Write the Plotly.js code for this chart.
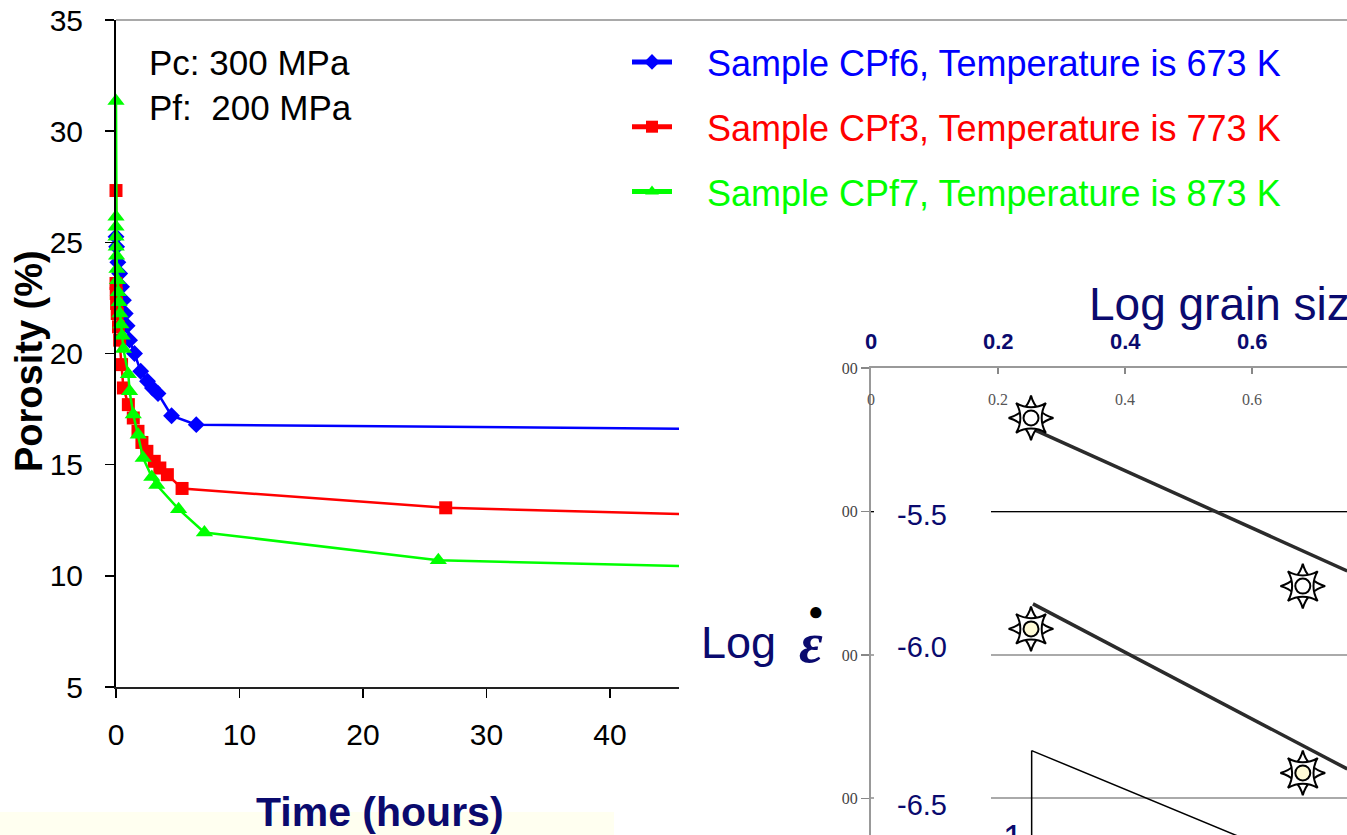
<!DOCTYPE html>
<html>
<head>
<meta charset="utf-8">
<script src="https://cdn.plot.ly/plotly-3.0.1.min.js"></script>
<style>html,body{margin:0;padding:0;background:#fff;}#chart{width:1347px;height:835px;}</style>
</head>
<body>
<div id="chart"></div>
<script>
// ---- Main chart data: porosity (%) vs time (hours) ----
const timeTicks = [0, 10, 20, 30, 40];
const porosityTicks = [5, 10, 15, 20, 25, 30, 35];

const cpf6Time = [0, 0.05, 0.15, 0.3, 0.45, 0.6, 0.75, 0.9, 1.1, 1.5, 2.0, 2.55, 2.95, 3.4, 4.5, 6.5, 72];
const cpf6Porosity = [25.25, 24.8, 24.1, 23.6, 23.0, 22.4, 21.8, 21.25, 20.6, 20.0, 19.2, 18.75, 18.45, 18.2, 17.2, 16.8, 16.5];

const cpf3Time = [0, 0, 0.02, 0.05, 0.1, 0.2, 0.3, 0.45, 0.6, 1.0, 1.4, 1.78, 2.1, 2.5, 3.1, 3.55, 4.16, 5.35, 26.7, 72];
const cpf3Porosity = [27.33, 23.15, 22.7, 22.25, 21.8, 21.2, 20.6, 19.5, 18.45, 17.7, 17.1, 16.5, 16.0, 15.6, 15.15, 14.85, 14.55, 13.93, 13.06, 12.4];

const cpf7Time = [0, 0, 0, 0, 0.02, 0.05, 0.08, 0.12, 0.18, 0.25, 0.32, 0.4, 0.5, 0.6, 1.0, 1.1, 1.4, 1.8, 2.2, 2.9, 3.3, 5.07, 7.16, 26.1, 72];
const cpf7Porosity = [31.36, 26.15, 25.7, 25.25, 24.8, 24.4, 23.8, 23.3, 22.75, 22.3, 21.8, 21.3, 20.8, 20.2, 19.07, 18.3, 17.26, 16.35, 15.3, 14.45, 14.08, 13.0, 11.95, 10.7, 10.1];

const seriesNames = [
  'Sample CPf6, Temperature is 673 K',
  'Sample CPf3, Temperature is 773 K',
  'Sample CPf7, Temperature is 873 K'
];

// ---- Overlaid chart data: log strain rate vs log grain size ----
const grainTicks = [0, 0.2, 0.4, 0.6];
const grainTickText = ['0', '0.2', '0.4', '0.6'];
const rateTicks = [-5.0, -5.5, -6.0, -6.5];
const rateTickText = ['00', '00', '00', '00'];
const rateLabelText = ['-5.5', '-6.0', '-6.5'];

const sunLogGrain = [0.252, 0.680, 0.252, 0.680];
const sunLogRate = [-5.174, -5.760, -5.909, -6.411];

const fit1LogGrain = [0.255, 0.75];
const fit1LogRate = [-5.213, -5.707];
const fit2LogGrain = [0.255, 0.75];
const fit2LogRate = [-5.822, -6.397];

const slopeTriX = [0.253, 0.253, 0.98, 0.253];
const slopeTriY = [-6.333, -7.0, -7.0, -6.333];

// ---- helpers ----
const W = 1347, H = 835;
const px = x => x / W;
const py = y => 1 - y / H;
const FONT = 'Liberation Sans, Arial, sans-serif';
const SERIF = 'Liberation Serif, Times New Roman, serif';
const NAVY = '#0a0a6e';
const BLUE = '#0000ff', RED = '#ff0000', GREEN = '#00ff00';
const GAP = '\u00a0\u00a0\u00a0';

const data = [
  {
    x: cpf6Time, y: cpf6Porosity, type: 'scatter', mode: 'lines+markers',
    name: GAP + '<span style="color:' + BLUE + '">' + seriesNames[0] + '</span>',
    legendgroup: 'a', cliponaxis: false,
    line: {color: BLUE, width: 2.5},
    marker: {symbol: 'diamond', size: 13, color: BLUE}
  },
  {
    x: cpf3Time, y: cpf3Porosity, type: 'scatter', mode: 'lines+markers',
    name: GAP + '<span style="color:' + RED + '">' + seriesNames[1] + '</span>',
    legendgroup: 'b', cliponaxis: false,
    line: {color: RED, width: 2.5},
    marker: {symbol: 'square', size: 13, color: RED}
  },
  {
    x: cpf7Time, y: cpf7Porosity, type: 'scatter', mode: 'lines+markers',
    name: GAP + '<span style="color:' + GREEN + '">' + seriesNames[2] + '</span>',
    legendgroup: 'c', cliponaxis: false,
    line: {color: GREEN, width: 2.5},
    marker: {symbol: 'triangle-up', size: 15, color: GREEN}
  },
  // overlaid chart
  {
    x: fit1LogGrain, y: fit1LogRate, xaxis: 'x2', yaxis: 'y2', type: 'scatter', mode: 'lines',
    showlegend: false, line: {color: '#2b2b2b', width: 3.5}
  },
  {
    x: fit2LogGrain, y: fit2LogRate, xaxis: 'x2', yaxis: 'y2', type: 'scatter', mode: 'lines',
    showlegend: false, line: {color: '#2b2b2b', width: 3.5}
  },
  {
    x: slopeTriX, y: slopeTriY, xaxis: 'x2', yaxis: 'y2', type: 'scatter', mode: 'lines',
    showlegend: false, line: {color: '#000', width: 1.5}
  },
  {
    x: sunLogGrain, y: sunLogRate, xaxis: 'x2', yaxis: 'y2', type: 'scatter', mode: 'markers',
    showlegend: false, cliponaxis: false,
    marker: {symbol: 'star-diamond', size: 32, color: '#fff', line: {color: '#000', width: 2}}
  },
  {
    x: sunLogGrain, y: sunLogRate, xaxis: 'x2', yaxis: 'y2', type: 'scatter', mode: 'markers',
    showlegend: false, cliponaxis: false,
    marker: {symbol: 'star-diamond', angle: 45, size: 30, color: '#fff', line: {color: '#000', width: 2}}
  },
  {
    x: sunLogGrain, y: sunLogRate, xaxis: 'x2', yaxis: 'y2', type: 'scatter', mode: 'markers',
    showlegend: false, cliponaxis: false,
    marker: {symbol: 'circle', size: 15, color: ['#ffffff', '#ffffff', '#fffbd6', '#fffbd6'], line: {color: '#000', width: 2}}
  },
  // empty traces so the helper axes (tick labels row, black -5.5 gridline) get drawn
  {x: [], y: [], xaxis: 'x3', yaxis: 'y2', type: 'scatter', mode: 'markers', showlegend: false},
  {x: [], y: [], xaxis: 'x2', yaxis: 'y3', type: 'scatter', mode: 'markers', showlegend: false}
];

const annotations = [
  {text: 'Pc: 300 MPa', x: px(147), y: py(63), xanchor: 'left', yanchor: 'middle', font: {family: FONT, size: 35, color: '#000'}},
  {text: 'Pf:\u00a0 200 MPa', x: px(147), y: py(107), xanchor: 'left', yanchor: 'middle', font: {family: FONT, size: 35, color: '#000'}},
  {text: '<b>Porosity (%)</b>', x: px(29), y: py(361), textangle: -90, xanchor: 'center', yanchor: 'middle', font: {family: FONT, size: 38, color: '#000'}},
  {text: '<b>Time (hours)</b>', x: px(380), y: py(812), xanchor: 'center', yanchor: 'middle', font: {family: FONT, size: 41, color: NAVY}},
  {text: 'Log grain size', x: px(1087), y: py(304), xanchor: 'left', yanchor: 'middle', font: {family: FONT, size: 46, color: NAVY}},
  {text: 'Log', x: px(699), y: py(642), xanchor: 'left', yanchor: 'middle', font: {family: FONT, size: 45, color: NAVY}},
  {text: '<b><i>ε</i></b>', x: px(811), y: py(642), xanchor: 'center', yanchor: 'middle', font: {family: SERIF, size: 58, color: NAVY}},
  {text: '●', x: px(816), y: py(611), xanchor: 'center', yanchor: 'middle', font: {family: FONT, size: 26, color: '#000'}},
  {text: '1', x: px(1013), y: py(816), xanchor: 'center', yanchor: 'top', font: {family: FONT, size: 36, color: NAVY}},
  {text: rateLabelText[0], x: px(922), y: py(515), xanchor: 'center', yanchor: 'middle', font: {family: FONT, size: 29, color: NAVY}},
  {text: rateLabelText[1], x: px(922), y: py(647), xanchor: 'center', yanchor: 'middle', font: {family: FONT, size: 29, color: NAVY}},
  {text: rateLabelText[2], x: px(922), y: py(805), xanchor: 'center', yanchor: 'middle', font: {family: FONT, size: 29, color: NAVY}}
];
grainTicks.forEach((v, i) => {
  annotations.push({text: '<b>' + grainTickText[i] + '</b>', xref: 'x2', yref: 'paper', x: v, y: py(341),
    xanchor: 'center', yanchor: 'middle', font: {family: FONT, size: 22, color: NAVY}});
});
annotations.forEach(a => { a.showarrow = false; if (!a.xref) a.xref = 'paper'; if (!a.yref) a.yref = 'paper'; });

const layout = {
  width: W, height: H,
  margin: {l: 0, r: 0, t: 0, b: 0},
  paper_bgcolor: '#fff', plot_bgcolor: 'rgba(0,0,0,0)',
  showlegend: true,
  legend: {
    x: px(627), y: py(32), xanchor: 'left', yanchor: 'top',
    bgcolor: 'rgba(0,0,0,0)', borderwidth: 0,
    font: {family: FONT, size: 36, color: '#000'},
    traceorder: 'grouped', tracegroupgap: 15,
    itemsizing: 'constant', itemwidth: 40
  },
  xaxis: {
    domain: [px(116), px(679)], range: [0, 45.59], anchor: 'y',
    tickmode: 'array', tickvals: timeTicks,
    ticks: 'outside', ticklen: 9, tickwidth: 1.5, tickcolor: '#000',
    showline: true, linecolor: '#222', linewidth: 2,
    showgrid: false, zeroline: false,
    tickfont: {family: FONT, size: 30, color: '#000'}, ticklabelstandoff: 11
  },
  yaxis: {
    domain: [py(687), py(20)], range: [5, 35], anchor: 'x',
    tickmode: 'array', tickvals: porosityTicks,
    ticks: 'outside', ticklen: 9, tickwidth: 1.5, tickcolor: '#000',
    showline: true, linecolor: '#000', linewidth: 2,
    showgrid: false, zeroline: false,
    tickfont: {family: FONT, size: 30, color: '#000'}, ticklabelstandoff: 16
  },
  xaxis2: {
    domain: [px(871), 1], range: [0, 0.7496], anchor: 'y2', side: 'top',
    tickmode: 'array', tickvals: grainTicks,
    ticks: 'inside', ticklen: 6, tickwidth: 1.5, tickcolor: '#888',
    showticklabels: false,
    showline: true, linecolor: '#999', linewidth: 2,
    showgrid: false, zeroline: false
  },
  xaxis3: {
    overlaying: 'x2', anchor: 'free', position: py(388), side: 'bottom',
    range: [0, 0.7496],
    tickmode: 'array', tickvals: grainTicks, ticktext: grainTickText,
    ticks: '', showline: false, showgrid: false, zeroline: false,
    tickfont: {family: SERIF, size: 16, color: '#555'}
  },
  yaxis2: {
    domain: [0, py(368)], range: [-6.6272, -5.0], anchor: 'x2',
    tickmode: 'array', tickvals: rateTicks, ticktext: rateTickText,
    ticks: 'outside', ticklen: 8, tickwidth: 1.5, tickcolor: '#888',
    showline: true, linecolor: '#999', linewidth: 2,
    showgrid: true, gridcolor: '#aaaaaa', gridwidth: 2, zeroline: false,
    tickfont: {family: SERIF, size: 16, color: '#444'}
  },
  yaxis3: {
    overlaying: 'y2', anchor: 'x2', range: [-6.6272, -5.0],
    tickmode: 'array', tickvals: [rateTicks[1]],
    showticklabels: false, ticks: '', showline: false,
    showgrid: true, gridcolor: '#000', gridwidth: 1.5, zeroline: false
  },
  shapes: [
    {type: 'rect', xref: 'paper', yref: 'paper', x0: 0, x1: px(614), y0: 0, y1: py(812),
      fillcolor: '#fffff0', line: {width: 0}, layer: 'below'},
    {type: 'line', xref: 'paper', yref: 'paper', x0: px(116), x1: 1, y0: py(20), y1: py(20),
      line: {color: '#a9a9a9', width: 2}, layer: 'above'},
    {type: 'rect', xref: 'paper', yref: 'paper', x0: px(874), x1: px(991), y0: 0, y1: py(430),
      fillcolor: '#ffffff', line: {width: 0}, layer: 'above'}
  ],
  annotations: annotations
};

Plotly.newPlot('chart', data, layout, {staticPlot: true, displayModeBar: false});
</script>
</body>
</html>
